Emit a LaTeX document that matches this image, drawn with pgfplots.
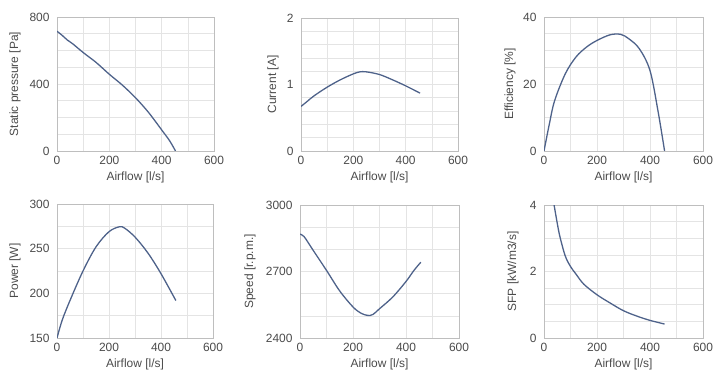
\documentclass[border=0pt]{standalone}
\usepackage{fontspec}
\setmainfont{Liberation Sans}
\usepackage{pgfplots}
\pgfplotsset{compat=1.18}
\definecolor{curvecol}{RGB}{78,98,138}
\definecolor{frame}{RGB}{190,190,190}
\definecolor{gridc}{RGB}{228,228,228}
\definecolor{txt}{RGB}{75,75,75}
\pgfplotsset{
  panel/.style={
    scale only axis,
    xmin=0, xmax=600,
    xtick={0,200,400,600},
    minor xtick={100,300,500},
    grid=both,
    major grid style={gridc, line width=0.6pt},
    minor grid style={gridc, line width=0.6pt},
    axis line style={frame, line width=0.8pt},
    tick style={draw=none},
    /pgf/number format/assume math mode=true,
    /pgf/number format/1000 sep={},
    ticklabel style={font=\fontsize{12}{13}\selectfont, text=txt},
    xticklabel style={yshift=-2bp},
    yticklabel style={xshift=-4bp},
    label style={font=\fontsize{12}{13}\selectfont, text=txt},
    xlabel={Airflow [l/s]},
    xlabel style={at={(axis description cs:0.5,0)}, anchor=center, yshift=-26bp},
    cycle list={{curvecol, mark=none}},
    every axis plot post/.append style={line width=1.3pt, smooth, tension=0.55},
  },
}
\begin{document}
\begin{tikzpicture}[x=1bp,y=1bp]
\useasboundingbox (0,0) rectangle (725,377);
% Panel 1
\begin{axis}[panel, at={(57bp,226bp)}, anchor=south west, width=157bp, height=134bp,
  ymin=0, ymax=800, ytick={0,400,800}, minor y tick num=3,
  ylabel={Static pressure [Pa]},
  ylabel style={at={(axis description cs:0,0.5)}, anchor=center, yshift=42bp}]
\addplot coordinates {(0,715) (20,690) (40,662) (60,640) (100,588) (150,528) (200,458) (250,393) (300,318) (350,230) (400,126) (430,62) (453,0)};
\end{axis}
% Panel 2
\begin{axis}[panel, at={(301bp,226bp)}, anchor=south west, width=157bp, height=133bp,
  ymin=0, ymax=2, ytick={0,1,2}, minor y tick num=4,
  ylabel={Current [A]},
  ylabel style={at={(axis description cs:0,0.5)}, anchor=center, yshift=28bp}]
\addplot coordinates {(0,0.67) (25,0.75) (50,0.83) (100,0.96) (150,1.07) (200,1.16) (225,1.19) (250,1.19) (300,1.15) (350,1.07) (400,0.98) (455,0.87)};
\end{axis}
% Panel 3
\begin{axis}[panel, at={(544bp,226bp)}, anchor=south west, width=159bp, height=134bp,
  ymin=0, ymax=40, ytick={0,20,40}, minor y tick num=3,
  ylabel={Efficiency [\%]},
  ylabel style={at={(axis description cs:0,0.5)}, anchor=center, yshift=34bp}]
\addplot coordinates {(0,0) (20,8) (40,15) (80,23) (120,28) (160,31) (200,33) (250,34.7) (290,34.8) (320,33.5) (360,30.5) (400,24) (430,12) (455,0)};
\end{axis}
% Panel 4
\begin{axis}[panel, at={(57bp,39bp)}, anchor=south west, width=156bp, height=134bp,
  ymin=150, ymax=300, ytick={150,200,250,300}, minor y tick num=1,
  ylabel={Power [W]},
  ylabel style={at={(axis description cs:0,0.5)}, anchor=center, yshift=42bp}]
\addplot coordinates {(0,150) (20,170) (50,192) (100,225) (150,252) (200,269) (240,274.5) (260,273) (300,263) (350,245) (400,222) (457,192)};
\end{axis}
% Panel 5
\begin{axis}[panel, at={(300bp,39bp)}, anchor=south west, width=159bp, height=133bp,
  ymin=2400, ymax=3000, ytick={2400,2700,3000}, minor y tick num=2,
  ylabel={Speed [r.p.m.]},
  ylabel style={at={(axis description cs:0,0.5)}, anchor=center, yshift=50bp}]
\addplot coordinates {(0,2868) (15,2858) (50,2795) (100,2705) (150,2612) (200,2540) (230,2512) (255,2502) (275,2506) (300,2532) (350,2585) (400,2655) (430,2705) (456,2742)};
\end{axis}
% Panel 6
\begin{axis}[panel, at={(544bp,39bp)}, anchor=south west, width=159bp, height=133bp,
  ymin=0, ymax=4, ytick={0,2,4}, minor y tick num=3,
  ylabel={SFP [kW/m3/s]},
  ylabel style={at={(axis description cs:0,0.5)}, anchor=center, yshift=31bp}]
\addplot coordinates {(38,4) (50,3.45) (60,3.05) (80,2.47) (100,2.15) (120,1.93) (150,1.62) (200,1.3) (250,1.05) (300,0.82) (350,0.66) (400,0.53) (455,0.42)};
\end{axis}
\end{tikzpicture}
\end{document}
